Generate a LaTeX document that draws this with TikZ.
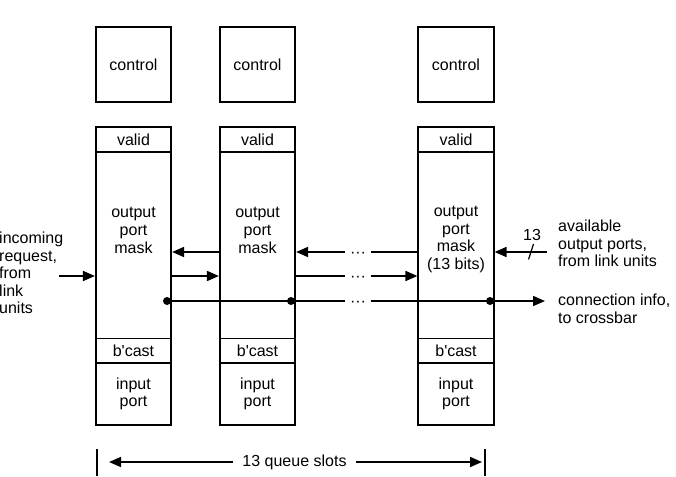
\documentclass[tikz,border=0pt]{standalone}
\usepackage{fontspec}
\setmainfont{Liberation Sans}
\usetikzlibrary{arrows.meta}
\begin{document}
\begin{tikzpicture}[x=1pt,y=-1pt,
  font=\fontsize{16}{17.6}\selectfont,
  box/.style={draw, line width=1.7pt, minimum width=75.5pt, inner sep=0pt, align=center},
  lbl/.style={align=center, inner sep=0pt},
  side/.style={align=left, inner sep=0pt, anchor=west},
  wire/.style={line width=1.7pt},
  arr/.style={wire, -{Triangle[length=12pt,width=10pt]}},
  junction/.style={circle, fill, inner sep=0pt, minimum size=8pt},
  gap/.style={inner xsep=4.5pt, inner ysep=0pt},
]
\useasboundingbox (0,0) rectangle (676,476);

% three queue slots, each a stack of fields under a control block
\foreach \n/\x in {1/133.5, 2/257.5, 3/456} {
  \node[box, minimum height=75pt]    (ctl\n) at (\x,64.5)   {control};
  \node[box, minimum height=25pt]    (val\n) at (\x,139.5)  {valid};
  \node[box, minimum height=186.5pt] (msk\n) at (\x,245.25) {};
  \node[box, minimum height=24.5pt]  (bc\n)  at (\x,350.75) {b\textquotesingle cast};
  \node[box, minimum height=62pt]    (inp\n) at (\x,394)    {input\\port};
}
\node[lbl] (m1) at (133.5,230.5) {output\\port\\mask};
\node[lbl] (m2) at (257.5,230.5) {output\\port\\mask};
\node[lbl] (m3) at (456,239.5)   {output\\port\\mask\\(13 bits)};

% row positions of the links between slots
\coordinate (rA) at (0,252);
\coordinate (rB) at (0,276);
\coordinate (rC) at (0,301);

% leftward links
\draw[arr] (msk2.west |- rA) -- (msk1.east |- rA);
\node[gap] (dA) at (358,255) {···};
\draw[wire] (msk3.west |- rA) -- (dA.east |- rA);
\draw[arr] (dA.west |- rA) -- (msk2.east |- rA);

% rightward links
\draw[arr] (msk1.east |- rB) -- (msk2.west |- rB);
\node[gap] (dB) at (358,279) {···};
\draw[wire] (msk2.east |- rB) -- (dB.west |- rB);
\draw[arr] (dB.east |- rB) -- (msk3.west |- rB);

% shared connection bus
\node[junction] (p1) at (167,301) {};
\node[junction] (p2) at (291,301) {};
\node[junction] (p3) at (490,301) {};
\node[gap] (dC) at (358,304) {···};
\coordinate (ci) at (545,301);
\draw[wire] (p1.center) -- (dC.west |- rC);
\draw[wire] (dC.east |- rC) -- (p3.center);
\draw[arr] (p3.center) -- (ci);

% incoming requests
\coordinate (inc) at (59,276);
\draw[arr] (inc) -- (msk1.west |- rB);
\node[side] (inctxt) at (-1,273) {incoming\\request,\\from\\link\\units};

% available output ports
\coordinate (av) at (547,252);
\draw[arr] (av) -- (msk3.east |- rA);
\draw[line width=1.2pt] (533.5,244) -- (528.5,259.5);
\node[lbl] (bits) at (532,235) {13};
\node[side] (avtxt) at (558,243.5) {available\\output ports,\\from link units};
\node[side] (citxt) at (558,309) {connection info,\\to crossbar};

% extent of the queue
\coordinate (bl) at (97,449);
\coordinate (br) at (485,449);
\draw[wire] (bl) -- (97,476);
\draw[wire] (br) -- (485,476);
\node[inner xsep=9pt] (qs) at (294.5,462) {13 queue slots};
\draw[arr] (qs.west) -- (109,462);
\draw[arr] (qs.east) -- (482,462);
\end{tikzpicture}
\end{document}
